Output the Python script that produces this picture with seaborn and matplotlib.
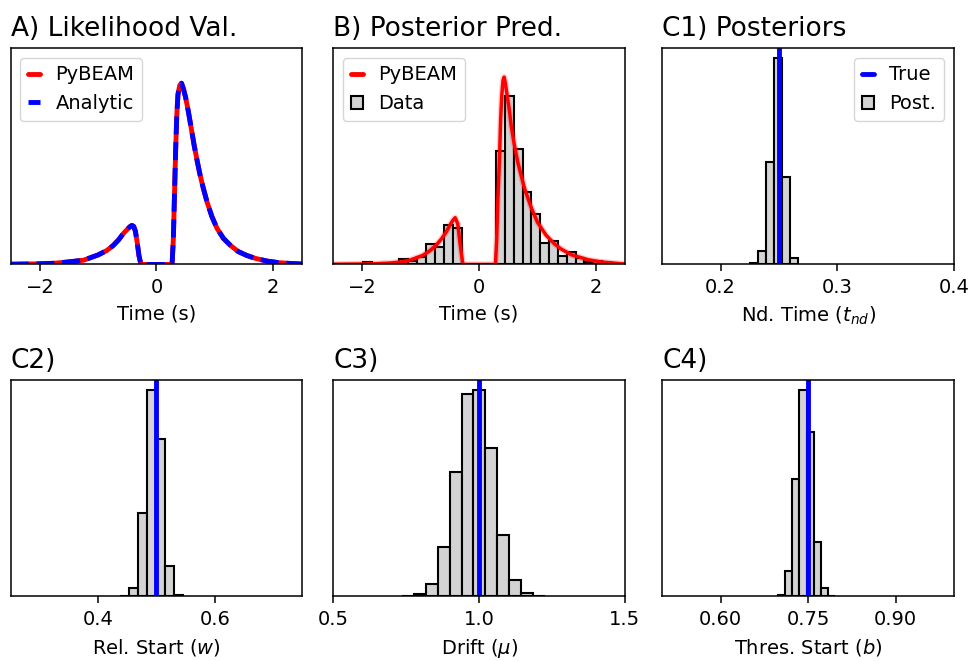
import numpy as np
import matplotlib
matplotlib.use('Agg')
import matplotlib.pyplot as plt
from matplotlib.lines import Line2D
from matplotlib.patches import Patch
import seaborn as sns

# A) likelihood: PyBEAM and analytic curves coincide (errors plotted at -t)
lik_time = [-2.5, -2.25, -2.0, -1.75, -1.54, -1.25, -1.0, -0.85, -0.74, -0.65,
            -0.566, -0.5, -0.45, -0.42, -0.39, -0.36, -0.33, -0.3, -0.27, -0.25,
            0.0, 0.25, 0.27, 0.29, 0.31, 0.33, 0.35, 0.37, 0.40, 0.43, 0.46,
            0.5, 0.55, 0.6, 0.65, 0.7, 0.75, 0.8, 0.87, 0.95, 1.04, 1.15, 1.27,
            1.4, 1.55, 1.7, 1.9, 2.1, 2.3, 2.5]
lik_dens = [0.002, 0.004, 0.006, 0.011, 0.021, 0.038, 0.085, 0.125, 0.170, 0.219,
            0.277, 0.313, 0.339, 0.348, 0.339, 0.295, 0.196, 0.080, 0.009, 0.0,
            0.0, 0.0, 0.018, 0.223, 0.625, 1.027, 1.339, 1.518, 1.598, 1.616, 1.571,
            1.491, 1.357, 1.205, 1.054, 0.920, 0.795, 0.688, 0.554, 0.429, 0.321,
            0.232, 0.170, 0.116, 0.080, 0.054, 0.030, 0.016, 0.009, 0.004]

# B) posterior predictive curve
pred_time = [-2.5, -2.11, -1.8, -1.54, -1.35, -1.2, -0.97, -0.85, -0.74, -0.65,
             -0.566, -0.5, -0.45, -0.41, -0.366, -0.326, -0.28, -0.25,
             0.0, 0.28, 0.30, 0.32, 0.35, 0.37, 0.39, 0.41, 0.43, 0.45, 0.48,
             0.52, 0.55, 0.6, 0.664, 0.78, 0.9, 1.0, 1.15, 1.29, 1.4, 1.58,
             1.87, 2.1, 2.44, 2.5]
pred_dens = [0.002, 0.004, 0.006, 0.012, 0.022, 0.036, 0.080, 0.120, 0.170, 0.225,
             0.288, 0.350, 0.393, 0.417, 0.363, 0.185, 0.006, 0.0,
             0.0, 0.0, 0.20, 0.55, 0.944, 1.30, 1.51, 1.64, 1.67, 1.62, 1.51,
             1.37, 1.24, 1.08, 0.91, 0.676, 0.50, 0.378, 0.26, 0.185, 0.14, 0.087,
             0.042, 0.022, 0.006, 0.005]

# B) data histogram (density), error side and correct side
err_range = (-1.985, -0.292)
err_heights = [0.021, 0.007, 0.015, 0.012, 0.051, 0.033, 0.067, 0.179, 0.152, 0.348, 0.321]
cor_range = (0.292, 2.414)
cor_heights = [1.009, 1.504, 1.031, 0.643, 0.446, 0.192, 0.208, 0.079, 0.107,
               0.061, 0.025, 0.034, 0.018, 0.009]

# C) posterior histograms and true values
tnd_range, tnd_heights, tnd_true = (0.225, 0.2665), [1.3, 13.7, 102.7, 207, 87.7, 6], 0.25
w_range, w_heights, w_true = (0.4374, 0.545), [0.7, 8.7, 83.3, 206, 157, 30, 1], 0.5
mu_range, mu_heights, mu_true = (0.736, 1.225), [0.7, 2, 12.7, 49.3, 124.3, 202.7, 206,
                                                  148.3, 61, 16, 3.3, 0.7], 1.0
b_range, b_heights, b_true = (0.698, 0.797), [1.7, 26, 117.7, 206.7, 165, 55, 8.3, 0.7], 0.75

sns.set_style('ticks', {'axes.edgecolor': 'black', 'xtick.color': 'black',
                        'text.color': 'black', 'axes.labelcolor': 'black'})
plt.rcParams['font.family'] = ['DejaVu Sans']
plt.rcParams['axes.linewidth'] = 1.1
plt.rcParams['xtick.major.width'] = 1.1
plt.rcParams['xtick.major.size'] = 4.9
plt.rcParams['xtick.major.pad'] = 4.9
plt.rcParams['xtick.labelsize'] = 14
plt.rcParams['axes.labelsize'] = 14
plt.rcParams['axes.labelpad'] = 5.6
plt.rcParams['axes.titlepad'] = 8.4
plt.rcParams['legend.fontsize'] = 14

fig = plt.figure(figsize=(9.71, 6.61), dpi=100)
lefts = [0.0110, 0.3433, 0.6821]
bottoms = [0.5999, 0.0976]
width, height = 0.3002, 0.3275
axes = [[fig.add_axes([l, b, width, height]) for l in lefts] for b in bottoms]


def hist_bars(ax, rng, heights):
    # one sample per bin centre, weighted by the bar height
    step = (rng[1] - rng[0]) / len(heights)
    centers = [rng[0] + step * (i + 0.5) for i in range(len(heights))]
    sns.histplot(x=centers, weights=heights, bins=len(heights), binrange=rng,
                 color='lightgray', edgecolor='black', linewidth=1.5, alpha=1, ax=ax)


def post_hist(ax, rng, heights, true_val):
    hist_bars(ax, rng, heights)
    ax.axvline(true_val, color='blue', lw=3.5)
    ax.set_yticks([])
    ax.set_ylabel('')


# A
ax = axes[0][0]
sns.lineplot(x=lik_time, y=lik_dens, color='red', lw=3.5, sort=False, ax=ax)
sns.lineplot(x=lik_time, y=lik_dens, color='blue', lw=3.5, linestyle='--',
             sort=False, ax=ax)
ax.set_xlim(-2.5, 2.5)
ax.set_ylim(0, 1.93)
ax.set_yticks([])
ax.set_xlabel('Time (s)')
ax.set_title('A) Likelihood Val.', loc='left', fontsize=19)
ax.legend(handles=[Line2D([], [], color='red', lw=3.5, label='PyBEAM'),
                   Line2D([], [], color='blue', lw=3.5, ls='--', label='Analytic')],
          loc='upper left', handlelength=0.6)

# B
ax = axes[0][1]
hist_bars(ax, err_range, err_heights)
hist_bars(ax, cor_range, cor_heights)
sns.lineplot(x=pred_time, y=pred_dens, color='red', lw=4.5, alpha=0.2, sort=False, ax=ax)
sns.lineplot(x=pred_time, y=pred_dens, color='red', lw=2.5, sort=False, ax=ax)
ax.set_xlim(-2.5, 2.5)
ax.set_ylim(0, 1.93)
ax.set_yticks([])
ax.set_ylabel('')
ax.set_xlabel('Time (s)')
ax.set_title('B) Posterior Pred.', loc='left', fontsize=19)
ax.legend(handles=[Line2D([], [], color='red', lw=3.5, label='PyBEAM'),
                   Patch(facecolor='lightgray', edgecolor='black', lw=1.5, label='Data')],
          loc='upper left', handlelength=0.6)

# C1
ax = axes[0][2]
post_hist(ax, tnd_range, tnd_heights, tnd_true)
ax.set_xlim(0.15, 0.4)
ax.set_xticks([0.2, 0.3, 0.4])
ax.set_xlabel('Nd. Time ($t_{nd}$)')
ax.set_title('C1) Posteriors', loc='left', fontsize=19)
ax.legend(handles=[Line2D([], [], color='blue', lw=3.5, label='True'),
                   Patch(facecolor='lightgray', edgecolor='black', lw=1.5, label='Post.')],
          loc='upper right', handlelength=0.6)

# C2
ax = axes[1][0]
post_hist(ax, w_range, w_heights, w_true)
ax.set_xlim(0.25, 0.75)
ax.set_xticks([0.4, 0.6])
ax.set_xlabel('Rel. Start ($w$)')
ax.set_title('C2)', loc='left', fontsize=19)

# C3
ax = axes[1][1]
post_hist(ax, mu_range, mu_heights, mu_true)
ax.set_xlim(0.5, 1.5)
ax.set_xticks([0.5, 1.0, 1.5])
ax.set_xlabel('Drift ($\\mu$)')
ax.set_title('C3)', loc='left', fontsize=19)

# C4
ax = axes[1][2]
post_hist(ax, b_range, b_heights, b_true)
ax.set_xlim(0.5, 1.0)
ax.set_xticks([0.60, 0.75, 0.90])
ax.set_xticklabels(['0.60', '0.75', '0.90'])
ax.set_xlabel('Thres. Start ($b$)')
ax.set_title('C4)', loc='left', fontsize=19)

fig.savefig('out.png', dpi=100)
